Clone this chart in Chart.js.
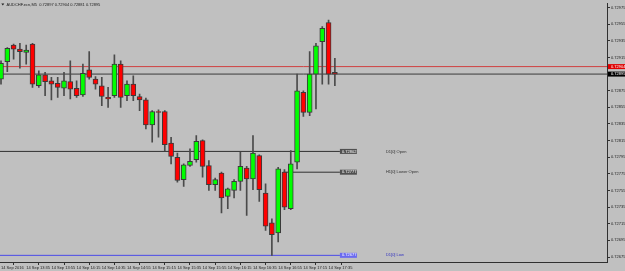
<!DOCTYPE html>
<html>
<head>
<meta charset="utf-8">
<script src="https://cdn.jsdelivr.net/npm/chart.js@4.4.1/dist/chart.umd.min.js"></script>
<style>
  html, body { margin: 0; padding: 0; background: #c0c0c0; }
  #chart { display: block; }
</style>
</head>
<body>
<canvas id="chart" width="625" height="271"></canvas>
<script>
// AUDCHF M5 candles, 14 Sep 2016, first bar 13:15
const opens = [0.72889, 0.72910, 0.72930, 0.72925, 0.72921, 0.72931, 0.72881, 0.72894, 0.72887, 0.72884,
               0.72878, 0.72886, 0.72878, 0.72870, 0.72900, 0.72889, 0.72881, 0.72867, 0.72869, 0.72907,
               0.72869, 0.72883, 0.72868, 0.72864, 0.72834, 0.72850, 0.72850, 0.72812, 0.72795, 0.72768,
               0.72785, 0.72792, 0.72815, 0.72785, 0.72762, 0.72776, 0.72748, 0.72755, 0.72766, 0.72782,
               0.72769, 0.72797, 0.72752, 0.72716, 0.72704, 0.72777, 0.72733, 0.72789, 0.72873, 0.72849,
               0.72895, 0.72934, 0.72957, 0.72897];
const highs = [0.72911, 0.72927, 0.72931, 0.72932, 0.72930, 0.72932, 0.72899, 0.72897, 0.72891, 0.72891,
               0.72897, 0.72911, 0.72887, 0.72907, 0.72922, 0.72892, 0.72891, 0.72879, 0.72918, 0.72911,
               0.72887, 0.72893, 0.72871, 0.72866, 0.72851, 0.72852, 0.72851, 0.72819, 0.72800, 0.72787,
               0.72805, 0.72821, 0.72816, 0.72791, 0.72770, 0.72777, 0.72758, 0.72768, 0.72801, 0.72784,
               0.72821, 0.72798, 0.72763, 0.72721, 0.72783, 0.72780, 0.72803, 0.72895, 0.72875, 0.72922,
               0.72932, 0.72952, 0.72960, 0.72914];
const lows = [0.72883, 0.72898, 0.72913, 0.72902, 0.72907, 0.72879, 0.72879, 0.72869, 0.72864, 0.72867,
              0.72869, 0.72865, 0.72867, 0.72868, 0.72889, 0.72877, 0.72857, 0.72855, 0.72867, 0.72855,
              0.72863, 0.72863, 0.72851, 0.72829, 0.72813, 0.72819, 0.72803, 0.72787, 0.72765, 0.72760,
              0.72784, 0.72789, 0.72771, 0.72755, 0.72755, 0.72728, 0.72733, 0.72746, 0.72755, 0.72725,
              0.72756, 0.72742, 0.72707, 0.72677, 0.72693, 0.72732, 0.72732, 0.72781, 0.72844, 0.72845,
              0.72853, 0.72883, 0.72883, 0.72881];
const closes = [0.72908, 0.72926, 0.72925, 0.72922, 0.72924, 0.72883, 0.72894, 0.72886, 0.72883, 0.72879,
                0.72887, 0.72877, 0.72869, 0.72896, 0.72891, 0.72883, 0.72868, 0.72865, 0.72907, 0.72867,
                0.72883, 0.72869, 0.72864, 0.72834, 0.72850, 0.72849, 0.72810, 0.72796, 0.72767, 0.72786,
                0.72790, 0.72814, 0.72784, 0.72762, 0.72768, 0.72746, 0.72757, 0.72766, 0.72784, 0.72769,
                0.72800, 0.72756, 0.72712, 0.72702, 0.72781, 0.72735, 0.72787, 0.72875, 0.72849, 0.72895,
                0.72929, 0.72950, 0.72895, 0.72895];

// time axis: a label every 4 bars
const tickIdx = [0, 4, 8, 12, 16, 20, 24, 28, 32, 36, 40, 44, 48, 52];
const tickLabels = ['14 Sep 2016', '14 Sep 13:35', '14 Sep 13:55', '14 Sep 14:15', '14 Sep 14:35',
                    '14 Sep 14:55', '14 Sep 15:15', '14 Sep 15:35', '14 Sep 15:55', '14 Sep 16:15',
                    '14 Sep 16:35', '14 Sep 16:55', '14 Sep 17:15', '14 Sep 17:35'];
const priceTicks = [0.72975, 0.72955, 0.72935, 0.72915, 0.72895, 0.72875, 0.72855, 0.72835,
                    0.72815, 0.72795, 0.72775, 0.72755, 0.72735, 0.72715, 0.72695, 0.72675];

const symbolTitle = 'AUDCHF.ecn,M5  0.72897 0.72904 0.72881 0.72895';
const askPrice = 0.72904;
const bidPrice = 0.72895;

// levels drawn by the indicator
const levelNames = ['D1[0] Open', 'H1[0] Lower Open', 'D1[0] Low'];
const levelPrices = [0.72802, 0.72777, 0.72677];
const levelStarts = [null, 45, null];   // bar where the level starts (null = before the chart)

const lastBar = opens.length - 1;
const xMin = -0.16, xMax = 96.2;       // chart shift on the right like MT4
const yMin = 0.72669, yMax = 0.72980;

const bullCol = '#00ff00', bearCol = '#ff0000';

const bodies = opens.map((o, i) => ({ x: i, y: [o, closes[i]] }));
const wicks = opens.map((o, i) => ({ x: i, y: [lows[i], highs[i]] }));

function hLine(price, from, to, color) {
    return {
        type: 'line',
        data: [{ x: from, y: price }, { x: to, y: price }],
        borderColor: color,
        borderWidth: 1,
        pointRadius: 0,
        order: 2
    };
}

const levelCols = ['#303030', '#303030', '#4a4ae8'];
const levelSets = levelPrices.map((p, i) =>
    hLine(p, levelStarts[i] === null ? xMin : levelStarts[i] - 0.2, lastBar + 0.8, levelCols[i]));

// boxes, names and title drawn on top
const overlay = {
    id: 'overlay',
    beforeDraw(chart) {
        const c = chart.ctx;
        c.save();
        c.fillStyle = '#c0c0c0';
        c.fillRect(0, 0, chart.width, chart.height);
        c.restore();
    },
    afterDraw(chart) {
        const c = chart.ctx, xs = chart.scales.x, ys = chart.scales.y;
        c.save();
        c.font = '4px "Liberation Sans", Arial, sans-serif';
        c.textBaseline = 'middle';

        c.fillStyle = '#202020';
        c.beginPath(); c.moveTo(1.3, 3.5); c.lineTo(4.3, 3.5); c.lineTo(2.8, 5.5); c.fill();
        c.fillText(symbolTitle, 6.5, 4.5);

        const ax = chart.chartArea.right;
        [[askPrice, '#e00000'], [bidPrice, '#000000']].forEach(([p, col]) => {
            const py = ys.getPixelForValue(p);
            c.fillStyle = col;
            c.fillRect(ax + 1, py - 2.5, 17, 5);
            c.fillStyle = '#ffffff';
            c.fillText(p.toFixed(5), ax + 4, py);
        });

        const px = xs.getPixelForValue(lastBar + 0.8);
        levelPrices.forEach((p, i) => {
            const py = ys.getPixelForValue(p);
            const blue = i === 2;
            c.fillStyle = blue ? '#6a6af0' : '#505050';
            c.fillRect(px, py - 2.5, 17, 5);
            c.fillStyle = '#ffffff';
            c.fillText(p.toFixed(5), px + 2, py);
            c.fillStyle = blue ? '#3030c0' : '#303030';
            c.fillText(levelNames[i], px + 46, py);
        });
        c.restore();
    }
};

const ctx = document.getElementById('chart').getContext('2d');
new Chart(ctx, {
    type: 'bar',
    data: {
        datasets: [
            {
                data: bodies,
                backgroundColor: opens.map((o, i) => closes[i] >= o ? bullCol : bearCol),
                borderColor: '#3a3a3a',
                borderWidth: 1,
                borderSkipped: false,
                barThickness: 5,
                grouped: false,
                order: 0
            },
            {
                data: wicks,
                backgroundColor: '#4a4a4a',
                borderWidth: 0,
                barThickness: 1,
                grouped: false,
                order: 1
            },
            hLine(askPrice, xMin, xMax, '#d04040'),
            hLine(bidPrice, xMin, xMax, '#3a3a3a'),
            ...levelSets
        ]
    },
    options: {
        responsive: false,
        animation: false,
        devicePixelRatio: 1,
        layout: { padding: { left: 0, top: 2, right: 0, bottom: 0 } },
        plugins: { legend: { display: false }, tooltip: { enabled: false } },
        scales: {
            x: {
                type: 'linear',
                min: xMin,
                max: xMax,
                offset: false,
                afterBuildTicks: (axis) => { axis.ticks = tickIdx.map(v => ({ value: v })); },
                afterFit: (axis) => { axis.height = 9; },
                grid: { drawOnChartArea: false, drawTicks: true, tickLength: 3, color: '#303030' },
                border: { display: true, color: '#303030' },
                ticks: {
                    autoSkip: false,
                    maxRotation: 0,
                    align: 'start',
                    padding: 0,
                    color: '#202020',
                    font: { size: 4, family: '"Liberation Sans", Arial, sans-serif' },
                    callback: (v) => tickLabels[tickIdx.indexOf(v)]
                }
            },
            y: {
                position: 'right',
                min: yMin,
                max: yMax,
                afterBuildTicks: (axis) => { axis.ticks = priceTicks.map(v => ({ value: v })); },
                afterFit: (axis) => { axis.width = 18; },
                grid: { drawOnChartArea: false, drawTicks: true, tickLength: 3, color: '#303030' },
                border: { display: true, color: '#303030' },
                ticks: {
                    padding: 1,
                    color: '#202020',
                    font: { size: 4, family: '"Liberation Sans", Arial, sans-serif' },
                    callback: (v) => v.toFixed(5)
                }
            }
        }
    },
    plugins: [overlay]
});
</script>
</body>
</html>
